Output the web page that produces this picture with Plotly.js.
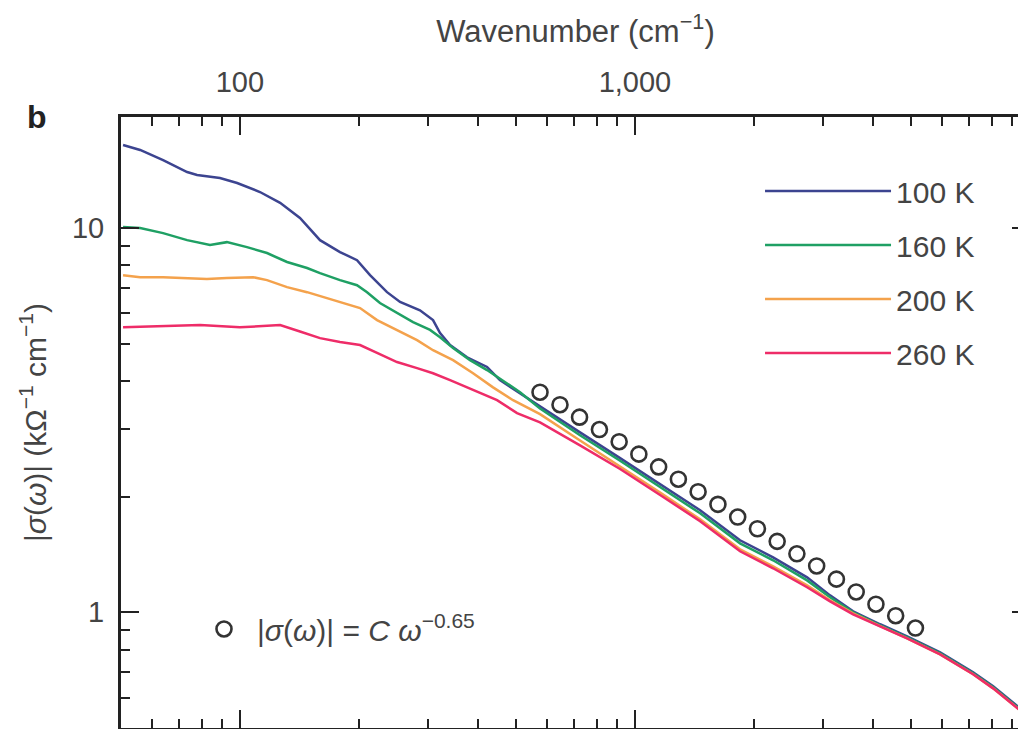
<!DOCTYPE html>
<html>
<head>
<meta charset="utf-8">
<script src="https://cdn.plot.ly/plotly-3.0.1.min.js"></script>
<style>
html,body{margin:0;padding:0;overflow:hidden;background:#fff;}
#chart{width:1040px;height:760px;}
</style>
</head>
<body>
<div id="chart"></div>
<script>
// ---- data ----
const seriesNames = ["100 K", "160 K", "200 K", "260 K"];

const x100K = [50.6, 55.9, 63.9, 73.5, 77.9, 89.0, 98.4, 112.4, 126.4, 141.9, 159.5, 179.2, 197.9, 213.5, 235.7, 254.3, 285.6, 308.2, 321.1, 340.4, 375.8, 422.3, 455, 502.9, 575, 726, 917, 1158, 1462, 1845, 2237, 2727, 3118, 3566, 4174, 4885, 5922, 7178, 8067, 10000];
const y100K = [16.45, 15.97, 15.03, 13.99, 13.74, 13.49, 13.10, 12.41, 11.63, 10.62, 9.30, 8.66, 8.25, 7.54, 6.81, 6.42, 6.11, 5.76, 5.33, 4.96, 4.61, 4.35, 4.02, 3.76, 3.42, 2.94, 2.52, 2.15, 1.844, 1.540, 1.390, 1.233, 1.107, 1.006, 0.931, 0.866, 0.787, 0.698, 0.642, 0.536];

const x160K = [50.6, 55.9, 63.9, 73.5, 84.0, 92.7, 104.2, 117.1, 131.6, 147.9, 159.5, 179.2, 197.9, 209.8, 226.2, 249.8, 274.3, 302.9, 321.1, 346.4, 382.4, 422.3, 474.5, 511.8, 575, 726, 917, 1158, 1462, 1845, 2237, 2727, 3118, 3566, 4174, 4885, 5922, 7178, 8067, 10000];
const y160K = [10.06, 10.0, 9.70, 9.30, 9.03, 9.19, 8.92, 8.61, 8.16, 7.87, 7.63, 7.32, 7.10, 6.81, 6.38, 6.01, 5.69, 5.43, 5.20, 4.87, 4.53, 4.27, 3.95, 3.74, 3.39, 2.89, 2.48, 2.12, 1.81, 1.512, 1.366, 1.211, 1.094, 1.0, 0.925, 0.861, 0.782, 0.694, 0.638, 0.533];

const x200K = [50.6, 55.9, 63.9, 73.5, 82.5, 92.7, 108, 117.1, 131.6, 147.9, 159.5, 179.2, 201.4, 222.4, 249.8, 280.8, 308.2, 346.4, 389.2, 437.3, 491.4, 575, 726, 917, 1158, 1462, 1845, 2237, 2727, 3118, 3566, 4174, 4885, 5922, 7178, 8067, 10000];
const y200K = [7.54, 7.45, 7.45, 7.41, 7.37, 7.41, 7.45, 7.32, 7.02, 6.81, 6.65, 6.42, 6.19, 5.76, 5.43, 5.11, 4.81, 4.53, 4.19, 3.85, 3.565, 3.28, 2.80, 2.40, 2.05, 1.746, 1.459, 1.318, 1.176, 1.075, 0.994, 0.920, 0.856, 0.777, 0.690, 0.634, 0.530];

const x260K = [50.6, 62.8, 79.3, 100, 113.7, 126.4, 141.9, 159.5, 179.2, 201.4, 222.4, 249.8, 280.8, 308.2, 340.4, 389.2, 447.6, 502.9, 575, 726, 917, 1158, 1462, 1845, 2237, 2727, 3118, 3566, 4174, 4885, 5922, 7178, 8067, 10000];
const y260K = [5.52, 5.56, 5.59, 5.52, 5.56, 5.59, 5.38, 5.17, 5.05, 4.96, 4.73, 4.48, 4.32, 4.19, 4.02, 3.79, 3.565, 3.30, 3.12, 2.72, 2.36, 2.02, 1.726, 1.442, 1.302, 1.162, 1.068, 0.988, 0.920, 0.856, 0.777, 0.690, 0.634, 0.530];

const xFit = [575, 646, 724, 813, 912, 1023, 1148, 1288, 1445, 1622, 1820, 2042, 2291, 2570, 2884, 3236, 3631, 4074, 4571, 5129];
const yFit = [3.74, 3.47, 3.22, 2.99, 2.78, 2.58, 2.39, 2.22, 2.06, 1.91, 1.77, 1.65, 1.53, 1.42, 1.32, 1.22, 1.13, 1.05, 0.98, 0.91];
const fitLabel = "|<i>σ</i>(<i>ω</i>)| = <i>C</i> <i>ω</i><sup>−0.65</sup>";

const xTickVals = [100, 1000];
const xTickText = ["100", "1,000"];
const xMinorVals = [60, 70, 80, 90, 200, 300, 400, 500, 600, 700, 800, 900, 2000, 3000, 4000, 5000, 6000, 7000, 8000, 9000];
const yTickVals = [1, 10];
const yTickText = ["1", "10"];
const yMinorVals = [0.6, 0.7, 0.8, 0.9, 2, 3, 4, 5, 6, 7, 8, 9];

// ---- styling ----
const colors = ["#3c4490", "#1fa064", "#f4a24c", "#ee2c68"];
const xs = [x100K, x160K, x200K, x260K];
const ys = [y100K, y160K, y200K, y260K];
const FONT = "Liberation Sans, Arial, Helvetica, sans-serif";
const axisColor = "#222";

const traces = seriesNames.map((n, i) => ({
  type: "scatter", mode: "lines", name: n,
  x: xs[i], y: ys[i], legendgroup: "g" + i,
  line: {color: colors[i], width: 2.5}
}));
traces.push({
  type: "scatter", mode: "markers", name: fitLabel,
  x: xFit, y: yFit, legend: "legend2",
  marker: {symbol: "circle-open", size: 15, color: "#333", line: {width: 2.6, color: "#333"}}
});

const layout = {
  width: 1040, height: 760,
  margin: {l: 121, r: 10, t: 117, b: 32},
  paper_bgcolor: "#fff", plot_bgcolor: "#fff",
  font: {family: FONT, color: "#444", size: 29},
  showlegend: true,
  xaxis: {
    type: "log", range: [Math.log10(50), 4], side: "top",
    tickmode: "array", tickvals: xTickVals, ticktext: xTickText,
    ticks: "inside", ticklen: 18, tickwidth: 2, tickcolor: axisColor,
    showline: true, linewidth: 3, linecolor: axisColor, mirror: "ticks",
    showgrid: false, zeroline: false,
    ticklabelstandoff: 10,
    tickfont: {size: 29, color: "#444"},
    minor: {tickmode: "array", tickvals: xMinorVals, ticks: "inside", ticklen: 9, tickwidth: 2, tickcolor: axisColor, showgrid: false},
    title: {text: "Wavenumber (cm<sup>−1</sup>)", font: {size: 31, color: "#444"}, standoff: 15}
  },
  yaxis: {
    type: "log", range: [Math.log10(0.5), 1.289],
    tickmode: "array", tickvals: yTickVals, ticktext: yTickText,
    ticks: "inside", ticklen: 18, tickwidth: 2, tickcolor: axisColor,
    showline: true, linewidth: 3, linecolor: axisColor, mirror: "ticks",
    showgrid: false, zeroline: false,
    ticklabelstandoff: 8,
    tickfont: {size: 29, color: "#444"},
    minor: {tickmode: "array", tickvals: yMinorVals, ticks: "inside", ticklen: 9, tickwidth: 2, tickcolor: axisColor, showgrid: false},
    title: {text: "|<i>σ</i>(<i>ω</i>)| (kΩ<sup>−1</sup> cm<sup>−1</sup>)", font: {size: 30, color: "#444"}, standoff: 17}
  },
  legend: {
    x: 0.703, y: 0.9215, xanchor: "left", yanchor: "top",
    bgcolor: "rgba(0,0,0,0)", borderwidth: 0,
    font: {size: 30, color: "#444"},
    traceorder: "grouped", tracegroupgap: 12, itemwidth: 126
  },
  legend2: {
    x: 0.077, y: 0.2046, xanchor: "left", yanchor: "top",
    bgcolor: "rgba(0,0,0,0)", borderwidth: 0,
    font: {size: 30, color: "#444"}, itemwidth: 56
  },
  annotations: [{
    text: "<b>b</b>", xref: "paper", yref: "paper", x: -0.1056, y: 1.0,
    xanchor: "left", yanchor: "middle", showarrow: false,
    font: {size: 32, color: "#222", family: FONT}
  }]
};

Plotly.newPlot("chart", traces, layout, {staticPlot: true, displayModeBar: false});
</script>
</body>
</html>
